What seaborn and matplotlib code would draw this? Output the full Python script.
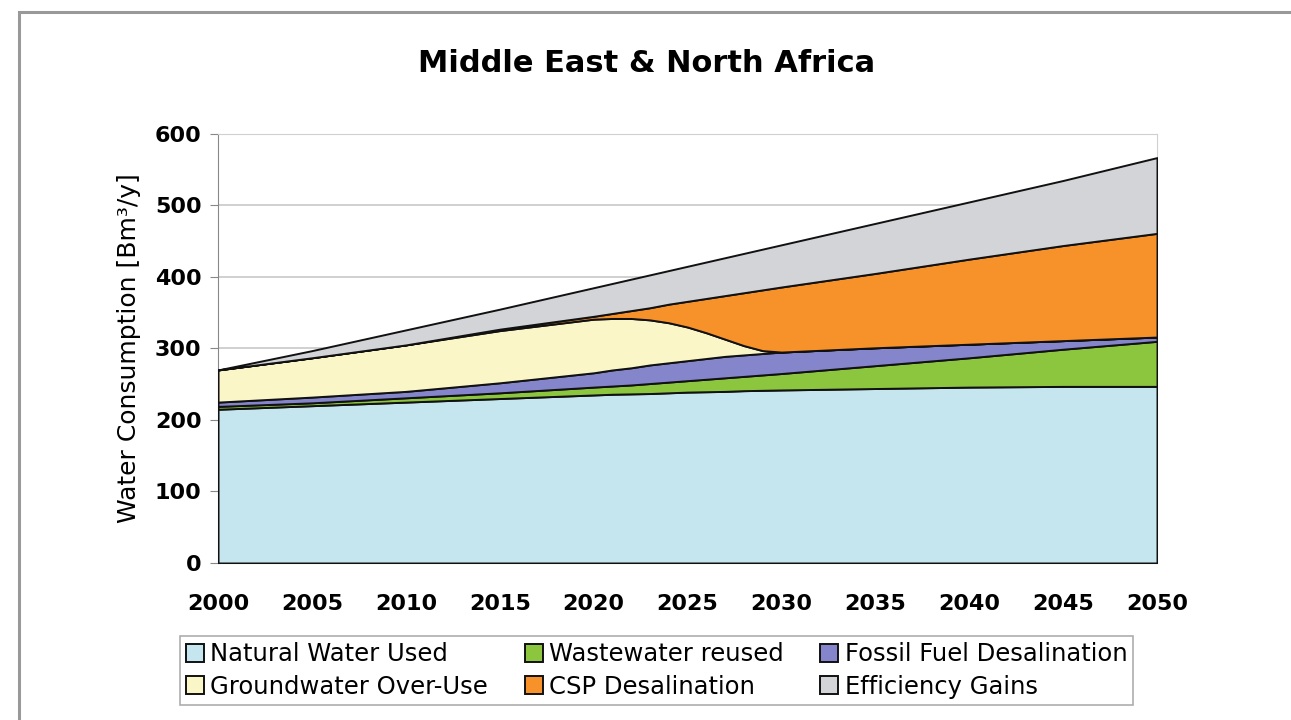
# Stacked area chart of MENA water consumption scenario.
import seaborn as sns
import matplotlib.pyplot as plt
import matplotlib.patches as patches

# data (values per year, Bm3/y)
years = [2000, 2005, 2010, 2015, 2020, 2021, 2022, 2023, 2024, 2025,
         2026, 2027, 2028, 2029, 2030, 2035, 2040, 2045, 2050]
natural = [215, 220, 225, 230, 235, 236, 236.5, 237, 238, 239,
           239.5, 240, 241, 241.5, 242, 244, 246, 247, 247]
wastewater = [4, 4, 6, 8, 11, 11.5, 12.5, 14, 15, 16,
              17.5, 19, 20, 21.5, 23, 32, 41, 52, 63]
fossil = [6, 8, 9, 14, 20, 22.5, 24, 26, 27, 28,
          29, 30, 30, 30, 30, 25, 19, 12, 6]
groundwater = [45, 55, 65, 73, 75, 72, 69, 63, 56, 47,
               36, 24, 13, 4, 0, 0, 0, 0, 0]
csp = [0, 0, 0, 2, 4, 7, 11, 17, 26, 36,
       48, 61, 74, 85, 91, 104, 119, 133, 145]
efficiency = [0, 10, 21, 28, 40, 42, 44, 46, 47, 49,
              51, 53, 55, 57, 59, 70, 80, 91, 106]

labels = ["Natural Water Used", "Wastewater reused", "Fossil Fuel Desalination",
          "Groundwater Over-Use", "CSP Desalination", "Efficiency Gains"]
colors = ["#c5e6ef", "#8cc63f", "#8585cc", "#faf6c8", "#f7922a", "#d3d4d7"]

sns.set_style("white")
plt.rcParams['font.family'] = ['DejaVu Sans']
plt.rcParams['text.color'] = 'black'
plt.rcParams['axes.labelcolor'] = 'black'

fig = plt.figure(figsize=(12.91, 7.2), dpi=100)
ax = fig.add_axes([0.1689, 0.2181, 0.7273, 0.5958])

polys = ax.stackplot(years, natural, wastewater, fossil, groundwater, csp, efficiency,
                     colors=colors, labels=labels, edgecolor="#111111", linewidth=1.4,
                     zorder=3)

ax.set_xlim(2000, 2050)
ax.set_ylim(0, 600)
ax.set_xticks(range(2000, 2051, 5))
ax.set_yticks(range(0, 601, 100))
ax.grid(axis="y", color="#c8c8c8", linewidth=1.2, zorder=0)
for s in ["top", "right"]:
    ax.spines[s].set_color("#d0d0d0")
for s in ["left", "bottom"]:
    ax.spines[s].set_color("#888888")
ax.tick_params(axis="y", length=6, color="#888888", labelcolor="black",
               direction="out", left=True, pad=6)
ax.tick_params(axis="x", length=0, pad=22, labelcolor="black")
for lab in ax.get_xticklabels() + ax.get_yticklabels():
    lab.set_fontsize(16)
    lab.set_fontweight("bold")

ax.set_ylabel("Water Consumption [Bm³/y]", fontsize=18, labelpad=10)
fig.text(0.501, 0.912, "Middle East & North Africa", ha="center", va="center",
         fontsize=22, fontweight="bold")

# legend order: matplotlib fills columns first
order = [0, 3, 1, 4, 2, 5]
leg = fig.legend([polys[i] for i in order], [labels[i] for i in order],
                 loc="lower left", bbox_to_anchor=(0.1394, 0.021, 0.7384, 0.097),
                 mode="expand", ncol=3, fontsize=17.5, frameon=True, fancybox=False,
                 handlelength=0.75, handleheight=0.75, handletextpad=0.25,
                 columnspacing=0.5, borderpad=0.25, labelspacing=0.35,
                 borderaxespad=0)
leg.get_frame().set_edgecolor("#999999")
leg.get_frame().set_linewidth(1.2)

# outer gray frame
frame = patches.Rectangle((19 / 1291, -0.1), 1.2, 1 - 12 / 720 + 0.1,
                          transform=fig.transFigure, fill=False,
                          edgecolor="#999999", linewidth=2.2)
fig.patches.append(frame)

fig.savefig("out.png", dpi=100)
